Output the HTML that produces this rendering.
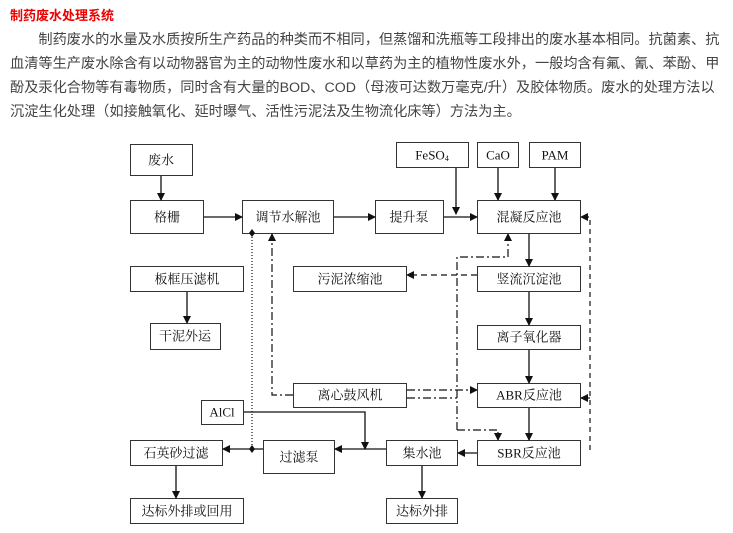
<!DOCTYPE html>
<html><head><meta charset="utf-8"><style>
body{margin:0;width:733px;height:533px;background:#fff;position:relative;overflow:hidden;font-family:"Liberation Sans","Noto Sans CJK SC",sans-serif}
.t{position:absolute;left:10px;top:5px;color:#e00;font-size:13px;font-weight:bold}
.p{position:absolute;left:10px;top:28px;width:730px;color:#444;font-size:14.2px;line-height:24px;white-space:nowrap}
svg{position:absolute;left:0;top:0}
svg text{font-family:"Liberation Serif","Noto Serif CJK SC",serif;font-size:13px;fill:#111;text-anchor:middle;dominant-baseline:central}
</style></head><body>
<div class="t">制药废水处理系统</div>
<div class="p">　　制药废水的水量及水质按所生产药品的种类而不相同，但蒸馏和洗瓶等工段排出的废水基本相同。抗菌素、抗<br>血清等生产废水除含有以动物器官为主的动物性废水和以草药为主的植物性废水外，一般均含有氟、氰、苯酚、甲<br>酚及汞化合物等有毒物质，同时含有大量的BOD、COD（母液可达数万毫克/升）及胶体物质。废水的处理方法以<br>沉淀生化处理（如接触氧化、延时曝气、活性污泥法及生物流化床等）方法为主。</div>
<svg width="733" height="533">
<defs><marker id="a" markerWidth="8" markerHeight="8" refX="7" refY="4" orient="auto" markerUnits="userSpaceOnUse"><path d="M0,0L8,4L0,8z" fill="#111"/></marker></defs>
<g fill="#fff" stroke="#333" stroke-width="1">
<rect x="130.5" y="144.5" width="62" height="31"/>
<rect x="130.5" y="200.5" width="73" height="33"/>
<rect x="242.5" y="200.5" width="91" height="33"/>
<rect x="375.5" y="200.5" width="68" height="33"/>
<rect x="477.5" y="200.5" width="103" height="33"/>
<rect x="396.5" y="142.5" width="72" height="25"/>
<rect x="477.5" y="142.5" width="41" height="25"/>
<rect x="529.5" y="142.5" width="51" height="25"/>
<rect x="293.5" y="266.5" width="113" height="25"/>
<rect x="477.5" y="266.5" width="103" height="25"/>
<rect x="477.5" y="325.5" width="103" height="24"/>
<rect x="293.5" y="383.5" width="113" height="24"/>
<rect x="477.5" y="383.5" width="103" height="24"/>
<rect x="130.5" y="266.5" width="113" height="25"/>
<rect x="150.5" y="323.5" width="70" height="26"/>
<rect x="201.5" y="400.5" width="42" height="24"/>
<rect x="130.5" y="440.5" width="92" height="25"/>
<rect x="263.5" y="440.5" width="71" height="33"/>
<rect x="386.5" y="440.5" width="71" height="25"/>
<rect x="477.5" y="440.5" width="103" height="25"/>
<rect x="130.5" y="498.5" width="113" height="25"/>
<rect x="386.5" y="498.5" width="71" height="25"/>
</g>
<g>
<text x="161" y="160">废水</text><text x="167" y="217">格栅</text><text x="288" y="217">调节水解池</text>
<text x="409" y="217">提升泵</text><text x="529" y="217">混凝反应池</text>
<text x="432" y="155">FeSO<tspan font-size="8" dy="3">4</tspan></text><text x="498" y="155">CaO</text><text x="555" y="155">PAM</text>
<text x="350" y="279">污泥浓缩池</text><text x="529" y="279">竖流沉淀池</text><text x="529" y="337">离子氧化器</text>
<text x="350" y="395">离心鼓风机</text><text x="529" y="395">ABR反应池</text>
<text x="187" y="279">板框压滤机</text><text x="185" y="336">干泥外运</text>
<text x="222" y="412" font-size="11">AlCl</text><text x="176" y="453">石英砂过滤</text><text x="299" y="457">过滤泵</text>
<text x="422" y="453">集水池</text><text x="529" y="453">SBR反应池</text>
<text x="187" y="511">达标外排或回用</text><text x="422" y="511">达标外排</text>
</g>
<g stroke="#111" stroke-width="1.3" fill="none" marker-end="url(#a)">
<path d="M161,176V200"/><path d="M204,217H242"/><path d="M334,217H375"/><path d="M444,217H477"/>
<path d="M456,168V214"/><path d="M498,168V200"/><path d="M555,168V200"/>
<path d="M529,234V266"/><path d="M529,292V325"/><path d="M529,350V383"/><path d="M529,408V440"/>
<path d="M477,453H458"/><path d="M386,449H335"/><path d="M263,449H223"/>
<path d="M176,466V498"/><path d="M422,466V498"/><path d="M187,292V323"/>
<path d="M244,412H365V449"/>
</g>
<g stroke="#111" stroke-width="1.2" fill="none">
<path d="M477,275H407" stroke-dasharray="6,4" marker-end="url(#a)"/>
<path d="M590,450V217H581" stroke-dasharray="5,4" marker-end="url(#a)"/>
<path d="M590,398H581" marker-end="url(#a)"/>
<path d="M293,395H272V234" stroke-dasharray="8,3,2,3" marker-end="url(#a)"/>
<path d="M407,390H477" stroke-dasharray="8,3,2,3" marker-end="url(#a)"/>
<path d="M407,398H457" stroke-dasharray="8,3,2,3"/>
<path d="M457,430V257H508V234" stroke-dasharray="8,3,2,3" marker-end="url(#a)"/>
<path d="M457,430H498V440" stroke-dasharray="8,3,2,3" marker-end="url(#a)"/>
<path d="M252,234V449" stroke-dasharray="1,2"/>
</g>
<path d="M252,229l3,4-3,4-3-4z M252,445l3,4-3,4-3-4z" fill="#111"/>
</svg>
</body></html>
